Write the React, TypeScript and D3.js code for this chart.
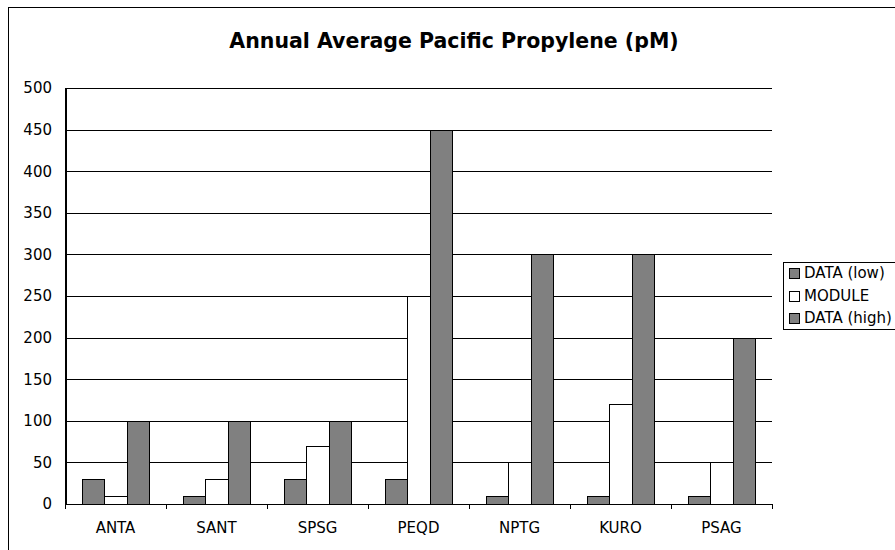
import React from "react";
import * as d3 from "d3";

const categories = ["ANTA", "SANT", "SPSG", "PEQD", "NPTG", "KURO", "PSAG"];
const dataLow = [30, 10, 30, 30, 10, 10, 10];
const moduleVals = [10, 30, 70, 250, 50, 120, 50];
const dataHigh = [100, 100, 100, 450, 300, 300, 200];
const seriesNames = ["DATA (low)", "MODULE", "DATA (high)"];
const seriesColors = ["#808080", "#ffffff", "#808080"];
const yTicks = [0, 50, 100, 150, 200, 250, 300, 350, 400, 450, 500];
const title = "Annual Average Pacific Propylene (pM)";

const W = 895;
const H = 550;
const FONT = "'DejaVu Sans', Verdana, sans-serif";
const FS = 15;

export default function App() {
  const left = 65;
  const right = 772;
  const top = 88;
  const bottom = 504;
  const x = d3.scaleBand<string>().domain(categories).range([left, right]);
  const y = d3.scaleLinear().domain([0, 500]).range([bottom, top]);
  const series = [dataLow, moduleVals, dataHigh];
  const bw = x.bandwidth() / 4.5;
  const pad = bw * 0.75;

  return (
    <svg
      width={W}
      height={H}
      style={{ position: "absolute", left: 0, top: 0, display: "block" }}
      fontFamily={FONT}
      shapeRendering="crispEdges"
    >
      <rect x={0} y={0} width={W} height={H} fill="#fff" />
      <rect x={8.5} y={7.5} width={920} height={580} fill="#fff" stroke="#000" strokeWidth={1} />
      <text x={454} y={47.5} textAnchor="middle" fontSize={20.5} fontWeight="bold">
        {title}
      </text>
      {yTicks.map((t) => (
        <g key={t}>
          {t > 0 && (
            <line x1={left} x2={right} y1={Math.round(y(t)) + 0.5} y2={Math.round(y(t)) + 0.5} stroke="#000" />
          )}
          <text x={52} y={y(t)} dy="0.36em" textAnchor="end" fontSize={FS}>
            {t}
          </text>
        </g>
      ))}
      {categories.map((c, i) => (
        <g key={c}>
          {series.map((s, j) => {
            const x0 = (x(c) as number) + pad + j * bw;
            return (
              <rect
                key={j}
                x={Math.round(x0) + 0.5}
                y={Math.round(y(s[i])) + 0.5}
                width={Math.round(x0 + bw) - Math.round(x0)}
                height={Math.round(y(0)) - Math.round(y(s[i]))}
                fill={seriesColors[j]}
                stroke="#000"
                strokeWidth={1.2}
              />
            );
          })}
          <text x={(x(c) as number) + x.bandwidth() / 2} y={533} textAnchor="middle" fontSize={FS}>
            {c}
          </text>
        </g>
      ))}
      {[...categories.map((c) => x(c) as number), right].map((v, i) => (
        <line key={i} x1={Math.round(v) + 0.5} x2={Math.round(v) + 0.5} y1={bottom} y2={bottom + 5} stroke="#000" />
      ))}
      <line x1={left} x2={right + 1} y1={bottom + 0.5} y2={bottom + 0.5} stroke="#000" />
      <line x1={left + 0.5} x2={left + 0.5} y1={top} y2={bottom + 1} stroke="#000" strokeWidth={2} />
      <rect x={783.5} y={262.5} width={140} height={67} fill="#fff" stroke="#000" />
      {seriesNames.map((n, j) => {
        const cy = 273 + j * 22.5;
        return (
          <g key={n}>
            <rect x={789.5} y={Math.round(cy - 5) + 0.5} width={10} height={10} fill={seriesColors[j]} stroke="#000" />
            <text x={804} y={cy} dy="0.36em" fontSize={FS}>
              {n}
            </text>
          </g>
        );
      })}
    </svg>
  );
}
